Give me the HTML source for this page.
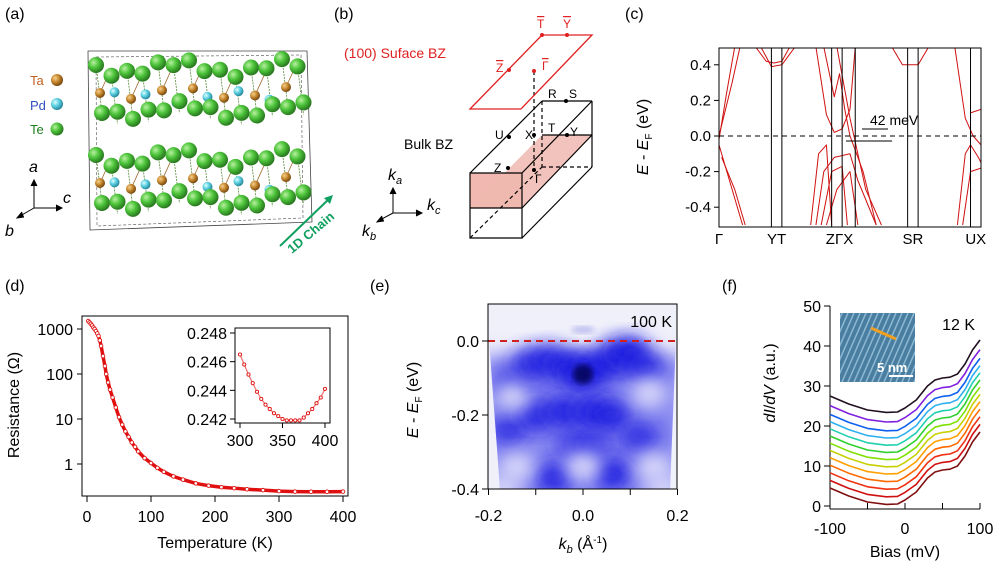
<!DOCTYPE html>
<html><head><meta charset="utf-8">
<style>
body{margin:0;background:#fff;width:1000px;height:564px;overflow:hidden;font-family:"Liberation Sans",Arial,sans-serif}
svg text{font-family:"Liberation Sans",Arial,sans-serif}
</style></head>
<body>
<svg id="fig" width="1000" height="564" viewBox="0 0 1000 564" xmlns="http://www.w3.org/2000/svg">
<defs>
<filter id="blur6" x="-50%" y="-50%" width="200%" height="200%"><feGaussianBlur stdDeviation="9"/></filter>
<filter id="blur3"><feGaussianBlur stdDeviation="3"/></filter>
<clipPath id="eclip"><polygon points="489,305 676,305 676,340 670,489 500,489 489,340"/></clipPath>
<clipPath id="cclip"><rect x="719" y="48" width="262" height="179"/></clipPath>
<clipPath id="stmclip"><rect x="840" y="313" width="75" height="69"/></clipPath>
<radialGradient id="gTe" cx="35%" cy="35%" r="65%"><stop offset="0" stop-color="#b8f0a0"/><stop offset="0.5" stop-color="#4cc43a"/><stop offset="1" stop-color="#2a7a20"/></radialGradient>
<radialGradient id="gTa" cx="35%" cy="35%" r="65%"><stop offset="0" stop-color="#f5d090"/><stop offset="0.5" stop-color="#c88a30"/><stop offset="1" stop-color="#7a4a10"/></radialGradient>
<radialGradient id="gPd" cx="35%" cy="35%" r="65%"><stop offset="0" stop-color="#e0ffff"/><stop offset="0.5" stop-color="#5cd0e0"/><stop offset="1" stop-color="#2a8aa0"/></radialGradient>
</defs>

<text x="5" y="19" font-size="16">(a)</text>
<text x="334" y="19" font-size="16">(b)</text>
<text x="625" y="19" font-size="16">(c)</text>
<text x="5" y="291" font-size="16">(d)</text>
<text x="370" y="291" font-size="16">(e)</text>
<text x="722" y="291" font-size="16">(f)</text>

<g id="crystal">
<path d="M88,51 L307,51 L312,222 L90,230 Z" fill="none" stroke="#444" stroke-width="0.8"/>
<path d="M96,57 L301,55 L303,218 L97,226 Z" fill="none" stroke="#666" stroke-width="0.7" stroke-dasharray="3,2"/>
</g>
<text x="30" y="85" font-size="13" fill="#c06020">Ta</text>
<circle cx="57" cy="80" r="6" fill="url(#gTa)"/>
<text x="30" y="110" font-size="13" fill="#3050c0">Pd</text>
<circle cx="57" cy="104" r="6" fill="url(#gPd)"/>
<text x="30" y="134" font-size="13" fill="#208020">Te</text>
<circle cx="57" cy="129" r="6.5" fill="url(#gTe)"/>
<g stroke="#000" stroke-width="1" fill="none">
<line x1="34" y1="208" x2="34" y2="182"/><path d="M31,186 L34,180 L37,186" fill="#000"/>
<line x1="34" y1="208" x2="60" y2="208"/><path d="M56,205 L62,208 L56,211" fill="#000"/>
<line x1="34" y1="208" x2="20" y2="216"/><path d="M22,212 L17,218 L24,217" fill="#000"/>
</g>
<text x="29" y="172" font-size="16" font-style="italic">a</text>
<text x="63" y="203" font-size="16" font-style="italic">c</text>
<text x="5" y="236" font-size="16" font-style="italic">b</text>
<line x1="280" y1="246" x2="330" y2="198" stroke="#10a060" stroke-width="2"/>
<path d="M324,198 L333,195 L330,204 Z" fill="#10a060"/>
<text x="0" y="0" font-size="13" font-weight="bold" fill="#10a060" transform="translate(292,254) rotate(-40)">1D Chain</text>

<g fill="none" stroke="#000" stroke-width="1.2">
<polygon points="470,173 522,173 522,208 470,208" fill="#f0b8b0" stroke="none"/>
<polygon points="470,208 522,208 592,135 542,135" fill="#f0b8b0" stroke="none" opacity="0.85"/>
<polygon points="470,173 522,173 522,238 470,238"/>
<line x1="470" y1="208" x2="522" y2="208"/>
<line x1="522" y1="208" x2="592" y2="135"/>
<line x1="470" y1="173" x2="542" y2="101"/><line x1="522" y1="173" x2="592" y2="101"/>
<line x1="542" y1="101" x2="592" y2="101"/><line x1="592" y1="101" x2="592" y2="167"/>
<line x1="522" y1="238" x2="592" y2="167"/><line x1="542" y1="135" x2="592" y2="135" />
<line x1="542" y1="101" x2="542" y2="167" stroke-dasharray="4,3"/><line x1="542" y1="167" x2="592" y2="167" stroke-dasharray="4,3"/>
<line x1="470" y1="238" x2="542" y2="167" stroke-dasharray="4,3"/>
<line x1="534" y1="71" x2="534" y2="170" stroke-dasharray="4,3"/>
</g>
<polygon points="470,109 521,109 592,35 542,35" fill="none" stroke="#e02020" stroke-width="1.3"/>
<g fill="#000">
<circle cx="534" cy="71" r="2" fill="#e02020"/>
<circle cx="509" cy="70" r="2" fill="#e02020"/><circle cx="542" cy="35" r="2" fill="#e02020"/><circle cx="567" cy="35" r="2" fill="#e02020"/>
<circle cx="566" cy="101" r="2"/><circle cx="567" cy="135" r="2"/><circle cx="534" cy="135" r="2"/><circle cx="509" cy="137" r="2"/><circle cx="508" cy="168" r="2"/><circle cx="534" cy="170" r="2"/>
</g>
<g font-family="Liberation Serif" font-size="12">
<text x="537" y="28" fill="#e02020" style="text-decoration:overline">T</text>
<text x="563" y="28" fill="#e02020" style="text-decoration:overline">Y</text>
<text x="496" y="72" fill="#e02020" style="text-decoration:overline">Z</text>
<text x="542" y="70" fill="#e02020" style="text-decoration:overline">Γ</text>
<text x="548" y="98">R</text><text x="569" y="98">S</text><text x="548" y="132">T</text><text x="570" y="136">Y</text>
<text x="495" y="139">U</text><text x="525" y="139">X</text><text x="494" y="172">Z</text><text x="535" y="183">Γ</text>
</g>
<text x="344" y="58" font-size="14" fill="#e02020">(100) Suface BZ</text>
<text x="404" y="149" font-size="14">Bulk BZ</text>
<g stroke="#000" stroke-width="1" fill="none">
<line x1="393" y1="213" x2="393" y2="190"/><path d="M390,194 L393,188 L396,194" fill="#000"/>
<line x1="393" y1="213" x2="420" y2="213"/><path d="M416,210 L422,213 L416,216" fill="#000"/>
<line x1="393" y1="213" x2="380" y2="220"/><path d="M382,216 L377,222 L384,221" fill="#000"/>
</g>
<text x="388" y="180" font-size="16" font-style="italic">k<tspan font-size="11" dy="4">a</tspan></text>
<text x="427" y="210" font-size="16" font-style="italic">k<tspan font-size="11" dy="4">c</tspan></text>
<text x="362" y="236" font-size="16" font-style="italic">k<tspan font-size="11" dy="4">b</tspan></text>

<g id="bands" clip-path="url(#cclip)"></g>
<g id="cAxes"></g>
<g id="resist"></g>
<g id="arpes"></g>
<g id="sts"></g>
</svg>
<script>
const NS='http://www.w3.org/2000/svg';
function mk(parent,tag,attrs,txt){const e=document.createElementNS(NS,tag);for(const k in attrs)e.setAttribute(k,attrs[k]);if(txt!==undefined)e.textContent=txt;parent.appendChild(e);return e;}
function $(id){return document.getElementById(id);}

(function(){const g=$('crystal');
 const te=[],ta=[],pd=[];
 for(let L=0;L<2;L++){const y0=L?155:65;
  for(let i=0;i<14;i++){const x=96+i*15.5;const w=Math.sin(i*0.9)*6;
    te.push([x,y0+w+(i%2?6:0)]);te.push([x+6,y0+48+w-(i%2?6:0)]);
    if(i%2===0)ta.push([x+4,y0+28+w]);else pd.push([x+3,y0+32-w]);}}
 te.forEach((p,i)=>{if(i%2===0)mk(g,'line',{x1:p[0],y1:p[1],x2:p[0]+6,y2:p[1]+48,stroke:'#5a8a3a','stroke-width':0.8,'stroke-dasharray':'2,1'});});
 ta.forEach(p=>mk(g,'line',{x1:p[0],y1:p[1],x2:p[0]+10,y2:p[1]-22,stroke:'#a06a30','stroke-width':0.8}));
 pd.forEach(p=>mk(g,'circle',{cx:p[0],cy:p[1],r:5,fill:'url(#gPd)'}));
 ta.forEach(p=>mk(g,'circle',{cx:p[0],cy:p[1],r:5,fill:'url(#gTa)'}));
 te.forEach(p=>mk(g,'circle',{cx:p[0],cy:p[1],r:8,fill:'url(#gTe)'}));
})();

const kLabels=['Γ','YT','ZΓX','SR','UX'];
const cEticks=[0.4,0.2,0.0,-0.2,-0.4];
const band1=[[0,-0.02],[0.03,0.25],[0.06,0.5]];
const band2=[[0,0.0],[0.05,0.3],[0.08,0.5]];
const band3=[[0,-0.05],[0.04,-0.25],[0.09,-0.5]];
const band4=[[0.01,-0.12],[0.06,-0.3],[0.1,-0.5]];
const band5=[[0.14,0.5],[0.18,0.42],[0.21,0.41],[0.24,0.42],[0.27,0.5]];
const band6=[[0.16,0.5],[0.2,0.39],[0.24,0.4],[0.29,0.5]];
const band7=[[0.37,0.5],[0.41,0.12],[0.44,0.02],[0.47,0.04],[0.5,0.15],[0.52,0.5]];
const band8=[[0.4,0.5],[0.44,0.22],[0.46,0.35],[0.48,0.15],[0.5,0.0],[0.55,-0.2],[0.6,-0.5]];
const band9=[[0.35,-0.5],[0.38,-0.1],[0.41,-0.05],[0.43,-0.5]];
const band10=[[0.37,-0.5],[0.4,-0.2],[0.44,-0.12],[0.5,-0.1],[0.53,-0.25],[0.6,-0.5]];
const band11=[[0.39,-0.5],[0.43,-0.2],[0.47,-0.17],[0.49,-0.5]];
const band12=[[0.41,-0.5],[0.45,-0.3],[0.5,-0.2],[0.53,-0.5]];
const band13=[[0.45,0.5],[0.5,0.1],[0.56,-0.3],[0.62,-0.5]];
const band14=[[0.66,0.5],[0.7,0.4],[0.72,0.4],[0.76,0.4],[0.8,0.5]];
const band15=[[0.91,-0.5],[0.94,-0.1],[0.96,-0.05],[0.99,-0.12],[1,-0.15]];
const band16=[[0.9,0.5],[0.94,0.1],[0.97,0.0],[1,-0.05]];
const band17=[[0.96,0.13],[1,0.15]];
const band18=[[0.93,-0.5],[0.96,-0.2],[1,-0.18]];
const bandList=[band1,band2,band3,band4,band5,band6,band7,band8,band9,band10,band11,band12,band13,band14,band15,band16,band17,band18];
const cx0=719,cx1=981;
function kX(k){return cx0+k*(cx1-cx0);}
function eY(E){return 136-E*178;}
(function(){
 const g=$('bands');
 bandList.forEach((b,i)=>{
   let d='M'+kX(b[0][0])+','+eY(b[0][1]);
   for(let j=1;j<b.length;j++){d+=' L'+kX(b[j][0])+','+eY(b[j][1]);}
   const p=mk(g,'path',{d:d,fill:'none',stroke:'#d01010','stroke-width':1,'stroke-linejoin':'round'});
   
   
 });
 const a=$('cAxes');
 [0.2,0.24,0.43,0.47,0.52,0.72,0.76,0.96].forEach(k=>mk(a,'line',{x1:kX(k),y1:48,x2:kX(k),y2:227,stroke:'#000','stroke-width':1}));
 mk(a,'rect',{x:719,y:48,width:262,height:179,fill:'none',stroke:'#000','stroke-width':1});
 mk(a,'line',{x1:719,y1:eY(0),x2:981,y2:eY(0),stroke:'#000','stroke-dasharray':'5,4','stroke-width':1});
 cEticks.forEach(v=>{mk(a,'line',{x1:714,y1:eY(v),x2:719,y2:eY(v),stroke:'#000'});
   const t=mk(a,'text',{x:711,y:eY(v)+5,'font-size':15,'text-anchor':'end'},v.toFixed(1));
   });
 const lx=[0,0.22,0.46,0.74,0.98];
 kLabels.forEach((l,i)=>{const t=mk(a,'text',{x:kX(lx[i]),y:244,'font-size':15,'text-anchor':'middle'},l);
   });
 const yl=mk(a,'text',{transform:'translate(648,137) rotate(-90)','font-size':16,'text-anchor':'middle'});
 
 yl.innerHTML='<tspan font-style="italic">E</tspan> - <tspan font-style="italic">E</tspan><tspan font-size="10" dy="4">F</tspan><tspan dy="-4"> (eV)</tspan>';
 mk(a,'line',{x1:862,y1:129,x2:888,y2:129,stroke:'#000'});
 mk(a,'line',{x1:846,y1:141,x2:892,y2:141,stroke:'#000'});
 const ml=mk(a,'text',{x:870,y:125,'font-size':14},'42 meV');
 
})();

const tempK=[2,4,6,8,10,12,14,16,18,20,22,25,28,30,33,36,40,45,50,55,60,65,70,75,80,90,100,110,120,135,150,170,190,210,230,250,275,300,325,350,375,400];
const resOhm=[1500,1400,1300,1200,1080,1000,900,800,700,560,420,250,150,100,65,45,30,18,11,7.5,5.3,4.0,3.0,2.4,1.9,1.35,1.05,0.82,0.67,0.53,0.45,0.37,0.33,0.305,0.29,0.275,0.262,0.25,0.244,0.242,0.242,0.244];
const dXticks=[0,100,200,300,400];
const dYticks=[1000,100,10,1];
const insetT=[300,305,310,315,320,325,330,335,340,345,350,355,360,365,370,375,380,385,390,395,400];
const insetR=[0.2465,0.2458,0.2451,0.2445,0.2439,0.2434,0.2430,0.2427,0.2424,0.2422,0.2420,0.2419,0.2419,0.2419,0.2419,0.2421,0.2424,0.2427,0.2431,0.2435,0.2441];
const insetXticks=[300,350,400];
const insetYticks=[0.248,0.246,0.244,0.242];
function dX(T){return 87+T*256/400;}
function dY(R){return 464-Math.log10(R)*45;}
function iX(T){return 240+(T-300)*0.85;}
function iY(R){return 419-(R-0.242)/0.006*86;}
(function(){
 const g=$('resist');
 const fr=mk(g,'rect',{x:82,y:316,width:266,height:180,fill:'none',stroke:'#000'});
 
 dXticks.forEach(v=>{mk(g,'line',{x1:dX(v),y1:496,x2:dX(v),y2:502,stroke:'#000'});
   const t=mk(g,'text',{x:dX(v),y:522,'font-size':16,'text-anchor':'middle'},v);
   });
 dYticks.forEach(v=>{mk(g,'line',{x1:77,y1:dY(v),x2:82,y2:dY(v),stroke:'#000'});
   const t=mk(g,'text',{x:73,y:dY(v)+6,'font-size':16,'text-anchor':'end'},v);
   });
 const xt=mk(g,'text',{x:215,y:548,'font-size':16,'text-anchor':'middle'},'Temperature (K)');
 
 const yt=mk(g,'text',{transform:'translate(19,405) rotate(-90)','font-size':16,'text-anchor':'middle'},'Resistance (Ω)');
 
 let pts=tempK.map((T,i)=>dX(T)+','+dY(resOhm[i])).join(' ');
 const pl=mk(g,'polyline',{points:pts,fill:'none',stroke:'#e01010','stroke-width':3.5});
 
 tempK.forEach((T,i)=>{const c=mk(g,'circle',{cx:dX(T),cy:dY(resOhm[i]),r:1.8,fill:'#fff',stroke:'#e01010','stroke-width':0.9});
   });
 const ir=mk(g,'rect',{x:235,y:328,width:95,height:95,fill:'#fff',stroke:'#000'});
 
 insetXticks.forEach(v=>{mk(g,'line',{x1:iX(v),y1:423,x2:iX(v),y2:428,stroke:'#000'});
   const t=mk(g,'text',{x:iX(v),y:446,'font-size':16,'text-anchor':'middle'},v);
   });
 insetYticks.forEach(v=>{mk(g,'line',{x1:230,y1:iY(v),x2:235,y2:iY(v),stroke:'#000'});
   const t=mk(g,'text',{x:227,y:iY(v)+6,'font-size':16,'text-anchor':'end'},v.toFixed(3));
   });
 const ipts=insetT.map((T,i)=>iX(T)+','+iY(insetR[i])).join(' ');
 mk(g,'polyline',{points:ipts,fill:'none',stroke:'#e01010','stroke-width':1.2,opacity:0.6});
 insetT.forEach((T,i)=>{const c=mk(g,'circle',{cx:iX(T),cy:iY(insetR[i]),r:1.6,fill:'#fff',stroke:'#e01010','stroke-width':0.9});
   });
})();

const eXticks=[-0.2,-0.1,0,0.1,0.2];
const eXlabels=['-0.2','','0.0','','0.2'];
const eYticks=[0.0,-0.2,-0.4];
const blobK=[-0.15,-0.11,-0.07,-0.03,0.0,0.03,0.07,0.1,0.13,-0.16,-0.1,-0.04,0.02,0.06,0.12,-0.06,0.06,-0.02,0.02];
const blobE=[-0.12,-0.06,-0.05,-0.07,-0.09,-0.07,-0.04,-0.03,-0.07,-0.24,-0.2,-0.19,-0.19,-0.2,-0.26,-0.37,-0.36,-0.28,-0.28];
const blobI=[0.7,0.85,0.85,0.95,1.0,0.95,0.95,1.0,0.85,0.75,0.9,0.95,0.95,0.9,0.8,0.95,1.0,0.6,0.6];
function aX(k){return 583+k*472.5;}
function aY(E){return 341-E*370;}
(function(){
 const g=$('arpes');
 mk(g,'rect',{x:488,y:304,width:189,height:185,fill:'#f0f0fb'});
 const c=mk(g,'g',{'clip-path':'url(#eclip)'});
 mk(c,'rect',{x:480,y:355,width:205,height:150,fill:'#8888f0',filter:'url(#blur6)'});
 blobK.forEach((k,i)=>{const e=mk(c,'ellipse',{cx:aX(k),cy:aY(blobE[i]),rx:20,ry:15,fill:'#1a1ae0',opacity:blobI[i],filter:'url(#blur6)'});
   });
 const hl=[[-0.15,-0.15],[0.14,-0.14],[-0.14,-0.34],[0.0,-0.34],[0.15,-0.34],[-0.17,-0.4],[0.17,-0.4]];
 hl.forEach(p=>mk(c,'ellipse',{cx:aX(p[0]),cy:aY(p[1]),rx:18,ry:14,fill:'#dcdcfa',filter:'url(#blur6)'}));
 mk(c,'ellipse',{cx:aX(0),cy:aY(-0.09),rx:10,ry:10,fill:'#000040',opacity:0.75,filter:'url(#blur3)'});
 mk(g,'ellipse',{cx:aX(0),cy:aY(0.03),rx:12,ry:4,fill:'#c0c0f0',filter:'url(#blur3)'});
 const fl=mk(g,'line',{x1:488,y1:aY(0),x2:677,y2:aY(0),stroke:'#d02020','stroke-width':2,'stroke-dasharray':'7,5'});
 
 mk(g,'path',{d:'M488,304 L677,304 L677,489 L488,489 Z',fill:'none',stroke:'#000','stroke-width':1});
 eXticks.forEach((v,i)=>{mk(g,'line',{x1:aX(v),y1:489,x2:aX(v),y2:495,stroke:'#000'});
   if(eXlabels[i]){const t=mk(g,'text',{x:aX(v),y:521,'font-size':16,'text-anchor':'middle'},eXlabels[i]);
   }});
 eYticks.forEach(v=>{mk(g,'line',{x1:482,y1:aY(v),x2:488,y2:aY(v),stroke:'#000'});
   const t=mk(g,'text',{x:479,y:aY(v)+6,'font-size':16,'text-anchor':'end'},v.toFixed(1));
   });
 const lab=mk(g,'text',{x:672,y:327,'font-size':16,'text-anchor':'end'},'100 K');
 
 const yl=mk(g,'text',{transform:'translate(418,400) rotate(-90)','font-size':16,'text-anchor':'middle'});
 
 yl.innerHTML='<tspan font-style="italic">E</tspan> - <tspan font-style="italic">E</tspan><tspan font-size="10" dy="4">F</tspan><tspan dy="-4"> (eV)</tspan>';
 const xl=mk(g,'text',{x:583,y:549,'font-size':16,'text-anchor':'middle'});
 
 xl.innerHTML='<tspan font-style="italic">k</tspan><tspan font-size="11" dy="4" font-style="italic">b</tspan><tspan dy="-4"> (Å</tspan><tspan font-size="10" dy="-6">-1</tspan><tspan dy="6">)</tspan>';
})();

const biasMV=[-100,-75,-50,-25,-10,0,15,30,40,50,60,70,80,90,100];
const baseCurve=[4.5,2.5,1.0,0.4,0.5,1.5,3.5,7,8.5,9,9.2,10,12.5,16,18.5];
const curveOffsets=[0,1.9,3.8,5.7,7.6,9.4,11.2,13.0,14.8,16.6,18.4,20.6,23.0];
const curveColors=['#801010','#d01010','#f03010','#ff6a00','#ffa000','#c8d000','#80e000','#30d030','#20d0b0','#30b0f0','#1060f0','#8020e0','#201020'];
const fXticks=[-100,-50,0,50,100];
const fXlabels=['-100','','0','','100'];
const fYticks=[0,10,20,30,40,50];
function fX(b){return 830+(b+100)*0.75;}
function fY(v){return 506-v*4;}
(function(){
 const g=$('sts');
 mk(g,'line',{x1:830,y1:306,x2:830,y2:509,stroke:'#000'});
 mk(g,'line',{x1:830,y1:509,x2:980,y2:509,stroke:'#000'});
 fYticks.forEach(v=>{mk(g,'line',{x1:824,y1:fY(v),x2:830,y2:fY(v),stroke:'#000'});
   const t=mk(g,'text',{x:821,y:fY(v)+6,'font-size':16,'text-anchor':'end'},v);
   });
 fXticks.forEach((v,i)=>{mk(g,'line',{x1:fX(v),y1:509,x2:fX(v),y2:503,stroke:'#000'});
   if(fXlabels[i]){const t=mk(g,'text',{x:fX(v),y:534,'font-size':16,'text-anchor':'middle'},fXlabels[i]);
   }});
 const xt=mk(g,'text',{x:905,y:557,'font-size':16,'text-anchor':'middle'},'Bias (mV)');
 
 const yt=mk(g,'text',{transform:'translate(775,383) rotate(-90)','font-size':16,'text-anchor':'middle'});
 
 yt.innerHTML='<tspan font-style="italic">dI</tspan>/<tspan font-style="italic">dV</tspan> (a.u.)';
 curveOffsets.forEach((off,i)=>{
   const pts=biasMV.map((b,j)=>fX(b)+','+fY(baseCurve[j]+off)).join(' ');
   const p=mk(g,'polyline',{points:pts,fill:'none',stroke:curveColors[i],'stroke-width':1.6,'stroke-linejoin':'round'});
   
   
 });
 const ins=mk(g,'g',{});
 
 mk(ins,'rect',{x:840,y:313,width:75,height:69,fill:'#4a7ea0'});
 const st=mk(ins,'g',{'clip-path':'url(#stmclip)'});
 for(let s=-40;s<80;s+=6){mk(st,'line',{x1:840+s,y1:382,x2:840+s+30,y2:313,stroke:'#9ec8e0','stroke-width':1.5,opacity:0.8});}
 mk(ins,'line',{x1:871,y1:328,x2:896,y2:339,stroke:'#f0a020','stroke-width':3});
 mk(ins,'line',{x1:889,y1:376,x2:913,y2:376,stroke:'#fff','stroke-width':2});
 mk(ins,'text',{x:877,y:372,'font-size':13,'font-weight':'bold',fill:'#fff'},'5 nm');
 const lab=mk(g,'text',{x:975,y:330,'font-size':16,'text-anchor':'end'},'12 K');
 
})();
</script>
</body></html>
